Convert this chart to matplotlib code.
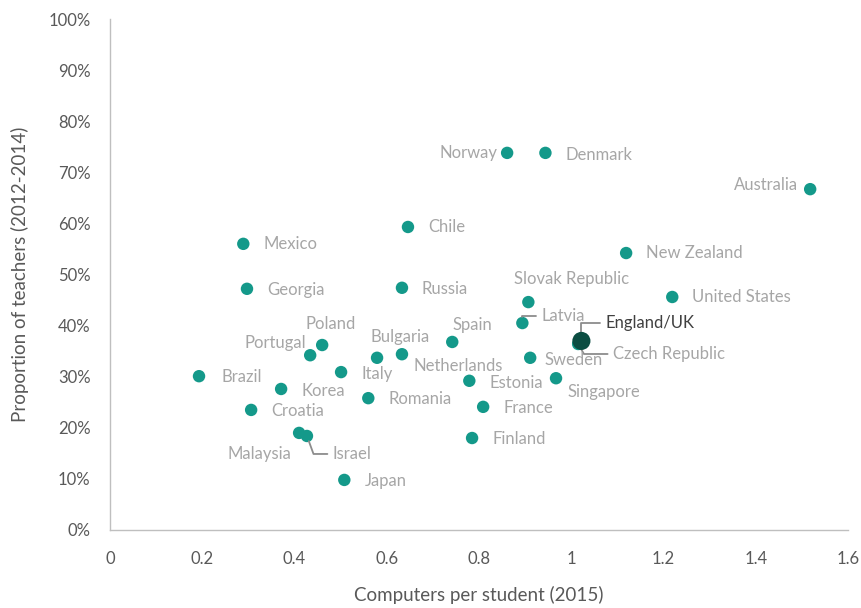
import matplotlib
matplotlib.use("Agg")
import matplotlib.pyplot as plt
from matplotlib.ticker import FuncFormatter, MultipleLocator

plt.rcParams['font.family'] = ['Lato', 'DejaVu Sans']

countries = ["Norway", "Denmark", "Australia", "Chile", "Mexico", "New Zealand", "Georgia",
             "Russia", "United States", "Slovak Republic", "Latvia", "Czech Republic",
             "Poland", "Portugal", "Bulgaria", "Spain", "Netherlands", "Sweden", "Italy",
             "Brazil", "Singapore", "Estonia", "Korea", "Romania", "France", "Croatia",
             "Malaysia", "Israel", "Finland", "Japan"]
computers = [0.861, 0.944, 1.518, 0.646, 0.289, 1.119, 0.297, 0.633, 1.219, 0.907, 0.894, 1.015,
             0.460, 0.434, 0.579, 0.742, 0.633, 0.911, 0.501, 0.193, 0.967, 0.779, 0.371, 0.560,
             0.809, 0.306, 0.410, 0.427, 0.785, 0.508]
teachers = [0.738, 0.738, 0.667, 0.593, 0.560, 0.542, 0.472, 0.474, 0.456, 0.446, 0.405, 0.364,
            0.362, 0.342, 0.337, 0.368, 0.344, 0.337, 0.309, 0.301, 0.297, 0.292, 0.276, 0.258,
            0.241, 0.235, 0.190, 0.184, 0.180, 0.098]
uk_name = "England/UK"
uk_x = 1.022
uk_y = 0.370

# label placement (offset pixels, alignment, leader line)
label_pos = {
    "Norway": (-10, 0, "right", None), "Denmark": (20, -2, "left", None),
    "Australia": (-12, 4, "right", None), "Chile": (20, 0, "left", None),
    "Mexico": (20, 0, "left", None), "New Zealand": (20, 0, "left", None),
    "Georgia": (20, -1, "left", None), "Russia": (20, -1, "left", None),
    "United States": (20, 0, "left", None), "Slovak Republic": (43, 23, "center", None),
    "Latvia": (19, 7, "left", "angle,angleA=0,angleB=90,rad=0"),
    "Czech Republic": (35, -10, "left", "angle,angleA=0,angleB=-60,rad=0"),
    "Poland": (8, 21, "center", None), "Portugal": (-4, 12, "right", None),
    "Bulgaria": (23, 21, "center", None), "Spain": (20, 17, "center", None),
    "Netherlands": (12, -12, "left", None), "Sweden": (14, -2, "left", None),
    "Italy": (20, -2, "left", None), "Brazil": (22, -1, "left", None),
    "Singapore": (11, -14, "left", None), "Estonia": (20, -2, "left", None),
    "Korea": (20, -2, "left", None), "Romania": (20, -1, "left", None),
    "France": (20, -1, "left", None), "Croatia": (20, -1, "left", None),
    "Malaysia": (-8, -21, "right", None),
    "Israel": (26, -18, "left", "angle,angleA=0,angleB=-70,rad=0"),
    "Finland": (20, -1, "left", None), "Japan": (20, -1, "left", None),
}

teal = "#14998a"
dark = "#0b4d42"
label_grey = "#a6a6a6"
tick_grey = "#595959"

fig = plt.figure(figsize=(8.62, 6.08), dpi=100)
ax = fig.add_axes([110 / 862, 78 / 608, 738 / 862, 511 / 608])

ax.scatter(computers, teachers, s=80, color=teal, zorder=3, edgecolors='none')
ax.scatter([uk_x], [uk_y], s=170, color=dark, zorder=4, edgecolors='none')

for name, x, y in zip(countries, computers, teachers):
    dx, dy, ha, conn = label_pos[name]
    kw = {}
    if conn is not None:
        kw['arrowprops'] = dict(arrowstyle='-', color='#8c8c8c', lw=1.3,
                                connectionstyle=conn, shrinkA=2, shrinkB=4,
                                relpos=(0, 0.5))
    ax.annotate(name, (x, y), xytext=(dx, dy), textcoords='offset pixels',
                ha=ha, va='center', fontsize=12, color=label_grey, **kw)

ax.annotate(uk_name, (uk_x, uk_y), xytext=(24, 18), textcoords='offset pixels',
            ha='left', va='center', fontsize=12, color='#404040',
            arrowprops=dict(arrowstyle='-', color='#8c8c8c', lw=1.3,
                            connectionstyle="angle,angleA=0,angleB=90,rad=0",
                            shrinkA=2, shrinkB=2, relpos=(0, 0.5)))

ax.set_xlim(0, 1.6)
ax.set_ylim(0, 1.0)
ax.xaxis.set_major_locator(MultipleLocator(0.2))
ax.yaxis.set_major_locator(MultipleLocator(0.1))
ax.xaxis.set_major_formatter(FuncFormatter(lambda v, p: f"{v:g}"))
ax.yaxis.set_major_formatter(FuncFormatter(lambda v, p: f"{v*100:.0f}%"))

for s in ['top', 'right']:
    ax.spines[s].set_visible(False)
for s in ['left', 'bottom']:
    ax.spines[s].set_color('#bfbfbf')
    ax.spines[s].set_linewidth(1.0)
ax.tick_params(axis='x', length=0, labelsize=12, labelcolor=tick_grey, pad=15)
ax.tick_params(axis='y', length=0, labelsize=12, labelcolor=tick_grey, pad=14)

ax.set_xlabel("Computers per student (2015)", fontsize=13.5, color=tick_grey, labelpad=14)
ax.set_ylabel("Proportion of teachers (2012-2014)", fontsize=13.5, color=tick_grey, labelpad=14)

fig.savefig("out.png", dpi=100)
